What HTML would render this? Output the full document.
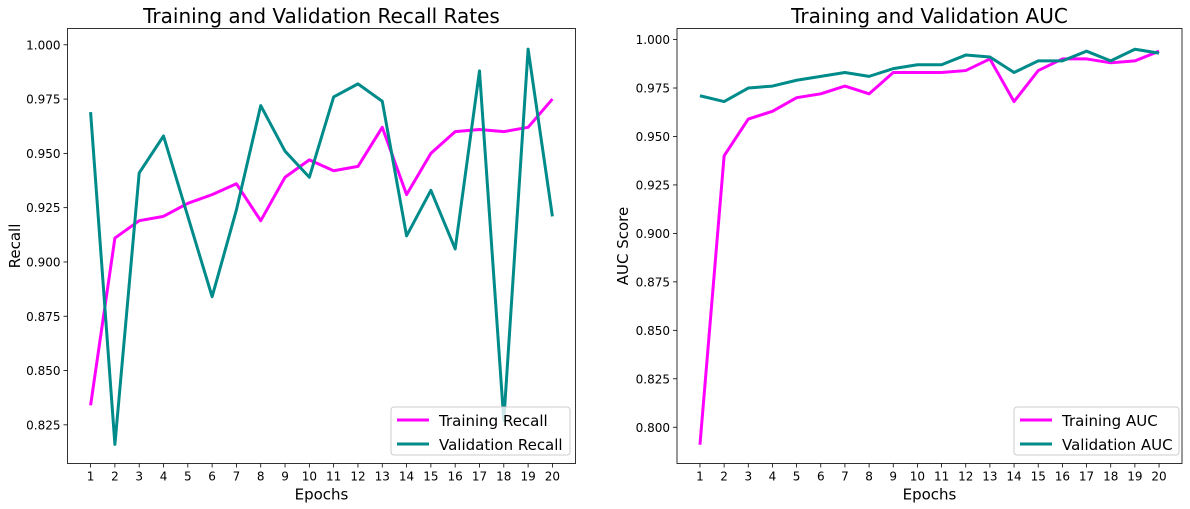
<!DOCTYPE html>
<html><head><meta charset="utf-8"><style>
body{margin:0;background:#fff;}
svg{display:block;font-family:"DejaVu Sans","Liberation Sans",sans-serif;}
</style></head><body>
<svg id="chart" width="1190" height="509" viewBox="0 0 1190 509"></svg>
<script>
const epochs=[1,2,3,4,5,6,7,8,9,10,11,12,13,14,15,16,17,18,19,20];
const trainRecall=[0.834,0.911,0.919,0.921,0.927,0.931,0.936,0.919,0.939,0.947,0.942,0.944,0.962,0.931,0.950,0.960,0.961,0.960,0.962,0.975];
const valRecall=[0.969,0.816,0.941,0.958,0.921,0.884,0.924,0.972,0.951,0.939,0.976,0.982,0.974,0.912,0.933,0.906,0.988,0.827,0.998,0.921];
const trainAuc=[0.791,0.940,0.959,0.963,0.970,0.972,0.976,0.972,0.983,0.983,0.983,0.984,0.990,0.968,0.984,0.990,0.990,0.988,0.989,0.994];
const valAuc=[0.971,0.968,0.975,0.976,0.979,0.981,0.983,0.981,0.985,0.987,0.987,0.992,0.991,0.983,0.989,0.989,0.994,0.989,0.995,0.993];
const recallTicks=[0.825,0.850,0.875,0.900,0.925,0.950,0.975,1.000];
const aucTicks=[0.800,0.825,0.850,0.875,0.900,0.925,0.950,0.975,1.000];

const NS="http://www.w3.org/2000/svg";
const svg=document.getElementById('chart');
function mk(tag,attrs,parent,text){const e=document.createElementNS(NS,tag);for(const k in attrs)e.setAttribute(k,attrs[k]);if(text!==undefined)e.textContent=text;(parent||svg).appendChild(e);return e;}

function panel(cfg){
  const g=mk('g',{});
  
  
  const {L,R,T,B,ymin,ymax}=cfg;
  const xmin=0.05,xmax=20.95;
  const xs=v=>L+(v-xmin)/(xmax-xmin)*(R-L);
  const ys=v=>B-(v-ymin)/(ymax-ymin)*(B-T);
  const t=mk('text',{x:(L+R)/2,y:23,'text-anchor':'middle','font-size':20,fill:'#000'},g,cfg.title);
  
  
  epochs.forEach(e=>{
    const x=xs(e);
    mk('line',{x1:x,x2:x,y1:B,y2:B+4,stroke:'#000','stroke-width':0.8},g);
    const tl=mk('text',{x:x,y:B+17,'text-anchor':'middle','font-size':12},g,String(e));
    
    
  });
  cfg.ticks.forEach(v=>{
    const y=ys(v);
    mk('line',{x1:L-4,x2:L,y1:y,y2:y,stroke:'#000','stroke-width':0.8},g);
    const tl=mk('text',{x:L-7,y:y+4.5,'text-anchor':'end','font-size':12},g,v.toFixed(3));
    
    
  });
  const xl=mk('text',{x:(L+R)/2,y:B+36,'text-anchor':'middle','font-size':15},g,'Epochs');
  
  
  const yl=mk('text',{x:0,y:0,'text-anchor':'middle','font-size':15,transform:`translate(${cfg.ylx},${(T+B)/2}) rotate(-90)`},g,cfg.ylabel);
  
  
  const clipId='clip'+cfg.name;
  const cp=mk('clipPath',{id:clipId},g);mk('rect',{x:L,y:T,width:R-L,height:B-T},cp);
  const series=[[cfg.train,'#ff00ff','training-line'],[cfg.val,'#008b8b','validation-line']];
  series.forEach(([d,c,n])=>{
    const p=mk('polyline',{points:d.map((v,i)=>xs(epochs[i])+','+ys(v)).join(' '),fill:'none',stroke:c,'stroke-width':3,'stroke-linejoin':'round','clip-path':`url(#${clipId})`},g);
    
    
  });
  mk('rect',{x:L,y:T,width:R-L,height:B-T,fill:'none',stroke:'#000','stroke-width':0.8},g);
  const lg=mk('g',{},g);
  
  
  mk('rect',{x:cfg.lx,y:407,width:cfg.lw,height:48,rx:3,fill:'#fff','fill-opacity':0.8,stroke:'#ccc'},lg);
  cfg.labels.forEach((lab,i)=>{
    const y=419+i*24;
    mk('line',{x1:cfg.lx+6,x2:cfg.lx+38,y1:y+1,y2:y+1,stroke:series[i][1],'stroke-width':3},lg);
    const lt=mk('text',{x:cfg.lx+48,y:y+7,'font-size':15},lg,lab);
    
    
  });
}
panel({name:'recall-chart',L:67.5,R:575.5,T:28.5,B:463.5,ymin:0.8072,ymax:1.0075,ticks:recallTicks,train:trainRecall,val:valRecall,title:'Training and Validation Recall Rates',ylabel:'Recall',ylx:20,labels:['Training Recall','Validation Recall'],lx:391,lw:179});
panel({name:'auc-chart',L:677,R:1182,T:28.5,B:463.5,ymin:0.7813,ymax:1.0057,ticks:aucTicks,train:trainAuc,val:valAuc,title:'Training and Validation AUC',ylabel:'AUC Score',ylx:628,labels:['Training AUC','Validation AUC'],lx:1014,lw:165});
</script>
</body></html>
